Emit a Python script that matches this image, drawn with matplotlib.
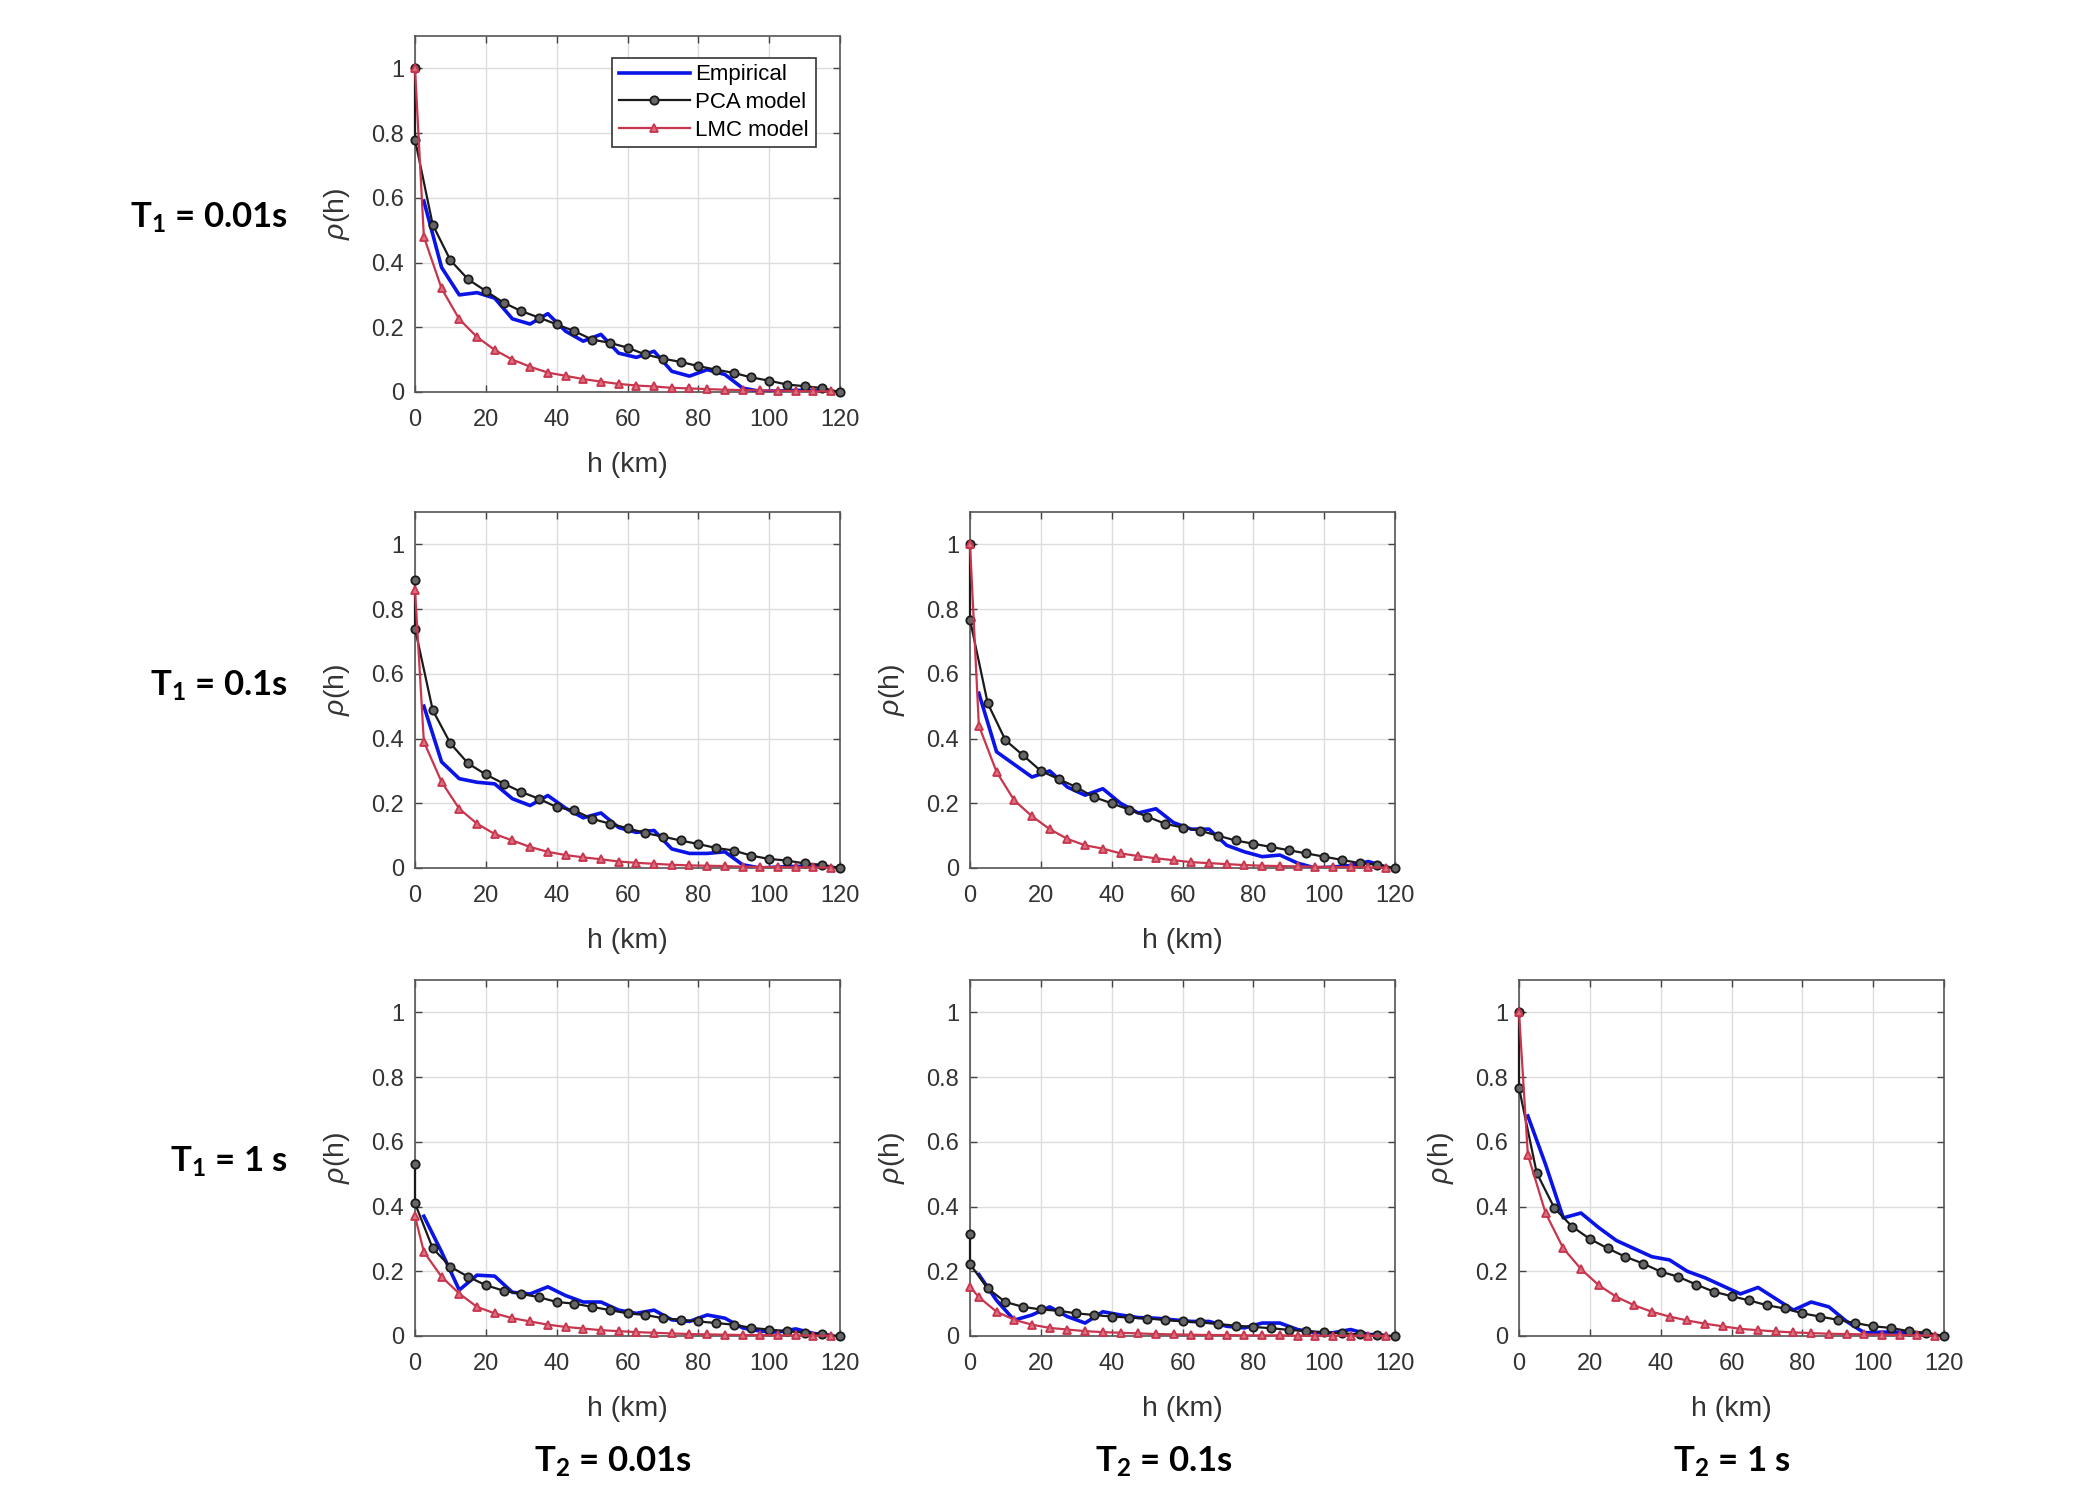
import matplotlib
matplotlib.use("Agg")
import matplotlib.pyplot as plt

plt.rcParams['font.family'] = ['Liberation Sans', 'DejaVu Sans']
plt.rcParams['mathtext.fontset'] = 'custom'
plt.rcParams['mathtext.rm'] = 'Liberation Sans'
plt.rcParams['mathtext.it'] = 'Liberation Sans:italic'
plt.rcParams['mathtext.bf'] = 'Lato:bold'

# distances (km)
h_pca = [0, 0, 5, 10, 15, 20, 25, 30, 35, 40, 45, 50, 55, 60, 65, 70, 75, 80,
         85, 90, 95, 100, 105, 110, 115, 120]
h_lmc = [0, 2.5, 7.5, 12.5, 17.5, 22.5, 27.5, 32.5, 37.5, 42.5, 47.5, 52.5,
         57.5, 62.5, 67.5, 72.5, 77.5, 82.5, 87.5, 92.5, 97.5, 102.5, 107.5,
         112.5, 117.5]
h_emp = [2.5, 7.5, 12.5, 17.5, 22.5, 27.5, 32.5, 37.5, 42.5, 47.5, 52.5,
         57.5, 62.5, 67.5, 72.5, 77.5, 82.5, 87.5, 92.5, 97.5, 102.5, 107.5,
         112.5, 117.5]

# T1=0.01s, T2=0.01s
pca_a = [1.00, 0.78, 0.517, 0.407, 0.348, 0.312, 0.276, 0.25, 0.23, 0.209, 0.188,
         0.162, 0.152, 0.137, 0.116, 0.103, 0.093, 0.08, 0.069, 0.059, 0.045,
         0.035, 0.023, 0.018, 0.012, 0.0]
lmc_a = [1.0, 0.48, 0.32, 0.225, 0.17, 0.13, 0.1, 0.078, 0.06, 0.05, 0.04, 0.032,
         0.025, 0.02, 0.017, 0.013, 0.011, 0.009, 0.007, 0.006, 0.005, 0.004,
         0.003, 0.002, 0.002]
emp_a = [0.59, 0.385, 0.30, 0.307, 0.29, 0.226, 0.21, 0.242, 0.188, 0.157, 0.178,
         0.12, 0.107, 0.126, 0.064, 0.049, 0.069, 0.054, 0.012, 0.002, 0.003,
         0.005, 0.005, 0.003]

# T1=0.1s, T2=0.01s
pca_b = [0.89, 0.74, 0.488, 0.385, 0.323, 0.289, 0.261, 0.235, 0.214, 0.188, 0.178,
         0.152, 0.137, 0.123, 0.108, 0.097, 0.085, 0.074, 0.062, 0.054, 0.038,
         0.028, 0.023, 0.014, 0.01, 0.0]
lmc_b = [0.86, 0.39, 0.266, 0.183, 0.137, 0.105, 0.085, 0.065, 0.05, 0.04, 0.033,
         0.027, 0.02, 0.016, 0.013, 0.01, 0.008, 0.007, 0.006, 0.004, 0.003,
         0.003, 0.002, 0.002, 0.001]
emp_b = [0.50, 0.328, 0.276, 0.265, 0.26, 0.214, 0.193, 0.224, 0.185, 0.155, 0.17,
         0.125, 0.11, 0.116, 0.059, 0.045, 0.045, 0.05, 0.01, 0.0, 0.003, 0.005,
         0.005, 0.003]

# T1=0.1s, T2=0.1s
pca_c = [1.0, 0.767, 0.509, 0.395, 0.348, 0.30, 0.275, 0.25, 0.219, 0.2, 0.18,
         0.159, 0.137, 0.125, 0.115, 0.1, 0.085, 0.075, 0.065, 0.055, 0.045,
         0.035, 0.025, 0.015, 0.01, 0.0]
lmc_c = [1.0, 0.44, 0.297, 0.209, 0.16, 0.12, 0.09, 0.07, 0.06, 0.045, 0.037, 0.03,
         0.024, 0.018, 0.015, 0.012, 0.009, 0.007, 0.006, 0.005, 0.004, 0.003,
         0.003, 0.002, 0.001]
emp_c = [0.54, 0.359, 0.32, 0.281, 0.30, 0.25, 0.225, 0.245, 0.2, 0.17, 0.183,
         0.14, 0.12, 0.12, 0.07, 0.05, 0.035, 0.04, 0.015, 0.0, 0.003, 0.008,
         0.02, 0.003]

# T1=1s, T2=0.01s
pca_d = [0.53, 0.41, 0.271, 0.214, 0.183, 0.157, 0.14, 0.13, 0.12, 0.105, 0.1,
         0.09, 0.08, 0.07, 0.065, 0.055, 0.05, 0.045, 0.04, 0.035, 0.025, 0.02,
         0.015, 0.01, 0.005, 0.0]
lmc_d = [0.37, 0.26, 0.183, 0.131, 0.09, 0.07, 0.055, 0.045, 0.035, 0.028, 0.023,
         0.018, 0.015, 0.012, 0.01, 0.008, 0.006, 0.005, 0.004, 0.003, 0.003,
         0.002, 0.002, 0.001, 0.001]
emp_d = [0.37, 0.26, 0.142, 0.188, 0.185, 0.135, 0.13, 0.152, 0.125, 0.105, 0.105,
         0.08, 0.07, 0.08, 0.05, 0.045, 0.065, 0.055, 0.025, 0.015, 0.012, 0.022,
         0.008, 0.002]

# T1=1s, T2=0.1s
pca_e = [0.314, 0.222, 0.147, 0.105, 0.09, 0.082, 0.078, 0.07, 0.065, 0.06, 0.057,
         0.054, 0.05, 0.045, 0.042, 0.037, 0.032, 0.028, 0.024, 0.019, 0.015,
         0.012, 0.008, 0.005, 0.003, 0.0]
lmc_e = [0.152, 0.12, 0.075, 0.05, 0.035, 0.025, 0.02, 0.015, 0.012, 0.01, 0.008,
         0.006, 0.005, 0.004, 0.003, 0.003, 0.002, 0.002, 0.002, 0.001, 0.001,
         0.001, 0.001, 0.001, 0.0]
emp_e = [0.19, 0.11, 0.049, 0.065, 0.09, 0.06, 0.04, 0.075, 0.065, 0.057, 0.055,
         0.05, 0.045, 0.045, 0.03, 0.025, 0.04, 0.04, 0.02, 0.01, 0.01, 0.02,
         0.005, 0.002]

# T1=1s, T2=1s
pca_f = [1.0, 0.767, 0.504, 0.395, 0.338, 0.30, 0.271, 0.245, 0.224, 0.199, 0.183,
         0.159, 0.137, 0.123, 0.11, 0.095, 0.085, 0.07, 0.06, 0.05, 0.04, 0.03,
         0.025, 0.015, 0.01, 0.0]
lmc_f = [1.0, 0.56, 0.38, 0.271, 0.207, 0.157, 0.121, 0.095, 0.075, 0.06, 0.048,
         0.038, 0.03, 0.022, 0.018, 0.014, 0.011, 0.009, 0.007, 0.006, 0.005,
         0.004, 0.003, 0.002, 0.001]
emp_f = [0.68, 0.53, 0.365, 0.38, 0.335, 0.295, 0.27, 0.245, 0.235, 0.2, 0.18,
         0.155, 0.13, 0.15, 0.115, 0.08, 0.105, 0.09, 0.045, 0.01, 0.012, 0.012,
         0.008, 0.003]

row_labels = ["0.01s", "0.1s", "1 s"]
col_labels = ["0.01s", "0.1s", "1 s"]
x_ticks = [0, 20, 40, 60, 80, 100, 120]
y_ticks = [0, 0.2, 0.4, 0.6, 0.8, 1]
y_ticklabels = ["0", "0.2", "0.4", "0.6", "0.8", "1"]

panels = [
    (0, 0, emp_a, pca_a, lmc_a, True),
    (1, 0, emp_b, pca_b, lmc_b, False),
    (1, 1, emp_c, pca_c, lmc_c, False),
    (2, 0, emp_d, pca_d, lmc_d, False),
    (2, 1, emp_e, pca_e, lmc_e, False),
    (2, 2, emp_f, pca_f, lmc_f, False),
]

W, H = 2100, 1500
fig = plt.figure(figsize=(21, 15), dpi=100)

col_left = [415, 970, 1519]
col_w = 425
row_top = [36, 512, 980]
row_h = 356

blue = '#0a14e6'
red = '#c8354d'
black = '#1a1a1a'
txt = '#333333'

for r, c, emp, pca, lmc, leg in panels:
    ax = fig.add_axes([col_left[c] / W, 1 - (row_top[r] + row_h) / H,
                       col_w / W, row_h / H])
    ax.plot(h_emp, emp, color=blue, lw=2.6, label='Empirical', zorder=3)
    ax.plot(h_pca, pca, color=black, lw=1.6, marker='o', ms=6, mfc='#666666',
            mec=black, mew=1.3, label='PCA model', clip_on=False, zorder=4)
    ax.plot(h_lmc, lmc, color=red, lw=1.6, marker='^', ms=6, mfc='#d9707f',
            mec=red, mew=1.3, label='LMC model', clip_on=False, zorder=5)
    ax.set_xlim(0, 120)
    ax.set_ylim(0, 1.1)
    ax.set_xticks(x_ticks)
    ax.set_yticks(y_ticks)
    ax.set_yticklabels(y_ticklabels)
    ax.grid(True, color='#dcdcdc', lw=1.0)
    ax.set_axisbelow(True)
    ax.tick_params(direction='in', top=True, right=True, length=5, width=1,
                   labelsize=17, colors='#444444', labelcolor=txt)
    ax.tick_params(axis='x', pad=12)
    ax.tick_params(axis='y', pad=8)
    for s in ax.spines.values():
        s.set_color('#555555')
        s.set_linewidth(1.2)
    ax.set_xlabel('h (km)', fontsize=20.5, color=txt, labelpad=15)
    ax.set_ylabel(r'$\rho$(h)', fontsize=20.5, color=txt, labelpad=14)
    if leg:
        lg = ax.legend(loc='upper right', bbox_to_anchor=(0.943, 0.939),
                       fontsize=16, frameon=True, fancybox=False,
                       handlelength=3.2, handletextpad=0.25, borderpad=0.3,
                       labelspacing=0.3, borderaxespad=0.0)
        lg.get_frame().set_edgecolor('#333333')
        lg.get_frame().set_linewidth(1.2)
        lg.get_frame().set_alpha(1.0)

row_y = [218, 686, 1162]
for lab, y in zip(row_labels, row_y):
    fig.text(288 / W, 1 - y / H, r'$\mathbf{T_1}$ = ' + lab, ha='right',
             va='center', fontsize=25, fontweight='bold', family='Lato',
             color='black')

col_x = [613, 1164, 1732]
for lab, x in zip(col_labels, col_x):
    fig.text(x / W, 1 - 1462 / H, r'$\mathbf{T_2}$ = ' + lab, ha='center',
             va='center', fontsize=25, fontweight='bold', family='Lato',
             color='black')

fig.savefig('out.png', dpi=100, facecolor='white')
